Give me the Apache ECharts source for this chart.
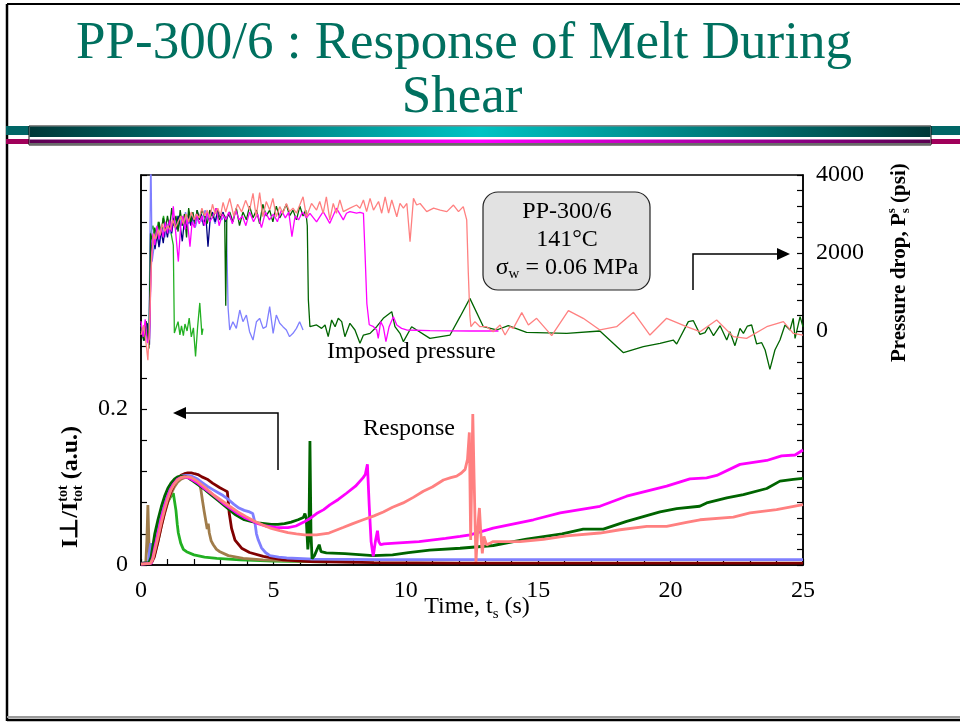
<!DOCTYPE html>
<html>
<head>
<meta charset="utf-8">
<script src="https://cdn.jsdelivr.net/npm/echarts/dist/echarts.min.js"></script>
<style>
  html, body { margin: 0; padding: 0; background: #fff; }
  #chart { width: 960px; height: 724px; }
</style>
</head>
<body>
<div id="chart"></div>
<script>
// ---------- axis ticks ----------
const timeTicks = [0, 5, 10, 15, 20, 25];
const intensityTicks = [0, 0.2];
const pressureTicks = [0, 2000, 4000];

// ---------- imposed pressure drop, psi  [time s, P] ----------
const pGreen = [[0,0],[0.1,-150],[0.2,200],[0.3,-300],[0.36,2500],[0.45,2700],[0.55,2350],[0.65,2800],[0.75,2500],[0.85,2950],[0.95,2600],[1.05,2750],[1.15,2450],[1.22,2200],[1.26,-50],[1.4,240],[1.47,-100],[1.53,130],[1.6,-120],[1.66,180],[1.74,0],[1.82,330],[1.9,-150],[1.98,80],[2.06,-650],[2.14,120],[2.22,720],[2.3,-100],[2.34,60]];

const pBlue = [[0,150],[0.1,-100],[0.2,250],[0.3,-150],[0.34,2500],[0.37,4700],[0.42,1780],[0.52,2290],[0.6,2500],[0.7,2200],[0.8,2650],[0.9,2400],[1.0,2750],[1.1,2500],[1.2,2850],[1.3,2650],[1.42,2950],[1.55,2700],[1.68,3050],[1.8,2750],[1.92,2950],[2.05,2650],[2.18,3000],[2.3,2800],[2.42,3100],[2.55,2850],[2.68,3000],[2.8,2750],[2.92,3050],[3.05,2850],[3.15,2950],[3.22,2890],[3.29,581],[3.35,26],[3.47,239],[3.6,68],[3.73,538],[3.85,239],[3.98,410],[4.1,-17],[4.23,-231],[4.36,239],[4.48,325],[4.61,68],[4.73,111],[4.86,624],[4.99,-60],[5.11,410],[5.24,197],[5.36,111],[5.49,26],[5.61,-145],[5.74,-60],[5.87,68],[5.99,239],[6.12,26]];

const pNavy = [[0,50],[0.12,-250],[0.24,200],[0.32,-350],[0.38,2000],[0.45,2450],[0.53,2100],[0.61,2500],[0.68,2150],[0.76,2600],[0.84,2250],[0.92,2700],[1.0,2400],[1.08,2800],[1.16,2500],[1.24,2900],[1.32,2600],[1.4,2950],[1.48,2700],[1.56,2300],[1.64,2850],[1.72,2650],[1.8,3000],[1.88,2700],[1.96,2950],[2.04,2750],[2.12,3100],[2.2,2850],[2.28,3000],[2.36,2700],[2.45,2950],[2.53,2160],[2.62,2950],[2.7,3050],[2.8,2800],[2.9,3100],[3.0,2900],[3.1,3050],[3.2,2800],[3.3,3000],[3.42,2850]];

const pDarkGreen = [[0,100],[0.1,-250],[0.2,250],[0.3,-450],[0.36,2500],[0.44,2300],[0.52,2650],[0.6,2400],[0.68,2800],[0.76,2500],[0.84,2900],[0.92,2600],[1.0,2950],[1.08,2650],[1.16,3150],[1.24,2700],[1.32,2950],[1.4,2550],[1.48,3100],[1.56,2700],[1.64,3000],[1.72,2400],[1.8,3150],[1.88,2800],[1.96,3050],[2.04,2750],[2.12,3100],[2.2,2850],[2.3,3100],[2.4,2950],[2.5,2750],[2.6,3100],[2.72,2900],[2.84,3150],[2.96,2850],[3.08,3000],[3.16,2950],[3.2,650],[3.24,2900],[3.35,3050],[3.47,2800],[3.6,3150],[3.72,2700],[3.85,3050],[3.98,2850],[4.1,3200],[4.23,2900],[4.36,3100],[4.48,2750],[4.6,3250],[4.73,2950],[4.86,3100],[4.98,2800],[5.11,3200],[5.24,2900],[5.36,3050],[5.49,3250],[5.61,2950],[5.74,3100],[5.87,2850],[6.0,3200],[6.12,2950],[6.22,3100],[6.28,2700],[6.32,800],[6.38,110],[6.63,154],[6.82,68],[6.95,154],[7.07,-145],[7.2,282],[7.33,110],[7.45,325],[7.58,240],[7.7,-145],[7.89,197],[8.08,26],[8.27,-316],[8.4,-103],[8.65,-60],[8.9,110],[9.15,325],[9.47,496],[9.59,110],[9.78,-60],[9.91,-274],[10.22,110],[10.91,-188],[11.67,-103],[12.05,367],[12.42,837],[12.93,110],[13.43,26],[13.87,137],[14.56,-34],[16.08,-60],[17.33,0],[18.22,-556],[18.97,-402],[19.6,-316],[20.1,-231],[20.23,-333],[20.67,240],[20.86,265],[21.11,-86],[21.3,-43],[21.43,110],[21.62,-120],[21.87,137],[22.12,-231],[22.24,-17],[22.43,-376],[22.62,68],[22.75,-60],[22.9,128],[23.06,154],[23.25,-333],[23.44,-299],[23.57,-487],[23.75,-983],[23.94,-487],[24.13,-231],[24.32,154],[24.51,26],[24.63,325],[24.7,-188],[24.89,367],[25,110]];

const pMagenta = [[0,250],[0.08,-150],[0.16,300],[0.24,-300],[0.32,-200],[0.38,1500],[0.45,2500],[0.52,2200],[0.6,2700],[0.68,2350],[0.76,2650],[0.84,2400],[0.92,2800],[1.0,2500],[1.08,2850],[1.15,2550],[1.22,3200],[1.3,2600],[1.41,1780],[1.5,2700],[1.58,2950],[1.66,2600],[1.74,2900],[1.85,2160],[1.93,2800],[2.02,2650],[2.1,3000],[2.2,2750],[2.3,2950],[2.4,2700],[2.5,3050],[2.6,2800],[2.72,2950],[2.84,3150],[2.95,2700],[3.08,3000],[3.2,2850],[3.32,3050],[3.45,2750],[3.58,3100],[3.7,2850],[3.83,2950],[3.96,2700],[4.1,3050],[4.25,2800],[4.4,3000],[4.55,2650],[4.7,3050],[4.85,2850],[5.0,3000],[5.15,2800],[5.3,3100],[5.45,2900],[5.58,3050],[5.7,2420],[5.82,2950],[5.95,2850],[6.1,3050],[6.25,2900],[6.38,3017],[6.63,2800],[6.88,3060],[7.13,2760],[7.38,3150],[7.64,2850],[7.76,3020],[7.89,3060],[8.14,3020],[8.27,3040],[8.4,3017],[8.46,2000],[8.53,700],[8.62,160],[8.78,110],[8.9,26],[8.96,-190],[9.05,240],[9.15,110],[9.25,-274],[9.37,110],[9.53,367],[9.66,154],[9.84,68],[10.03,26],[10.91,9],[12.42,0],[13.5,0]];

const pSalmon = [[0,-100],[0.1,150],[0.18,-250],[0.26,-750],[0.33,300],[0.4,1900],[0.48,2500],[0.56,2350],[0.64,2600],[0.72,2450],[0.8,2750],[0.9,2550],[1.0,2700],[1.1,2600],[1.2,2850],[1.3,2650],[1.4,2800],[1.5,2950],[1.6,2750],[1.7,3000],[1.8,2800],[1.9,3050],[2.0,2850],[2.1,3000],[2.2,2900],[2.3,3150],[2.4,2950],[2.5,3100],[2.6,2900],[2.7,3250],[2.8,3000],[2.9,3150],[3.0,2950],[3.1,3300],[3.2,3050],[3.35,3400],[3.5,2950],[3.65,3250],[3.8,3050],[3.95,3350],[4.1,3100],[4.23,3530],[4.35,2930],[4.48,3550],[4.6,2930],[4.73,3320],[4.86,3100],[4.98,3400],[5.11,2930],[5.24,3190],[5.36,3020],[5.49,3270],[5.61,3060],[5.74,3150],[5.87,3020],[6.12,3440],[6.25,2930],[6.44,3270],[6.63,3100],[6.75,3320],[6.88,3020],[7.0,3440],[7.13,2850],[7.26,3270],[7.38,3020],[7.51,3360],[7.64,3060],[7.89,3150],[8.14,3230],[8.27,3150],[8.4,3360],[8.52,3060],[8.65,3400],[8.78,3100],[8.97,3320],[9.09,3020],[9.22,3440],[9.35,3020],[9.47,3360],[9.66,2930],[9.78,3270],[9.91,3150],[10.04,3270],[10.16,2290],[10.29,3400],[10.41,3230],[10.54,3270],[10.79,3060],[11.05,3150],[11.3,3100],[11.55,3060],[11.8,3230],[11.99,3060],[12.17,3190],[12.3,2850],[12.36,1500],[12.42,400],[12.46,110],[12.61,240],[12.8,110],[13.05,110],[13.3,-17],[13.56,154],[13.75,-103],[13.93,110],[14.06,68],[14.38,470],[14.63,154],[14.94,325],[15.51,-120],[16.14,521],[16.7,325],[17.33,26],[17.96,110],[18.6,478],[19.22,-103],[19.85,325],[20.6,110],[21.11,-17],[21.74,282],[22.37,-145],[22.87,-188],[23.63,110],[24.26,240],[24.63,-60],[25,-103]];

// ---------- response I⊥/Itot (a.u.)  [time s, I] ----------
const rGreen = [[0,0.002],[0.2,0.002],[0.3,0.003],[0.39,0.01],[0.5,0.028],[0.64,0.047],[0.77,0.06],[0.89,0.072],[1.01,0.081],[1.13,0.088],[1.22,0.092],[1.27,0.091],[1.32,0.07],[1.37,0.052],[1.41,0.041],[1.5,0.028],[1.6,0.02],[1.72,0.017],[2.0,0.013],[2.4,0.01],[2.86,0.0086],[3.74,0.0065],[5,0.005],[7,0.004]];

const rBrown = [[0,0.002],[0.18,0.002],[0.22,0.03],[0.26,0.077],[0.29,0.04],[0.32,0.004],[0.4,0.006],[0.5,0.012],[0.64,0.03],[0.77,0.05],[0.89,0.066],[1.01,0.08],[1.13,0.091],[1.26,0.1],[1.38,0.106],[1.51,0.11],[1.64,0.112],[1.77,0.113],[1.9,0.113],[2.02,0.111],[2.12,0.108],[2.2,0.105],[2.26,0.097],[2.32,0.083],[2.38,0.07],[2.45,0.056],[2.5,0.046],[2.54,0.053],[2.58,0.041],[2.65,0.031],[2.73,0.026],[2.85,0.02],[2.98,0.017],[3.3,0.012],[3.86,0.0086],[4.6,0.0065],[6,0.005],[8,0.004]];

const rDarkRed = [[0,0.002],[0.4,0.003],[0.5,0.01],[0.64,0.03],[0.77,0.05],[0.89,0.067],[1.01,0.082],[1.13,0.094],[1.26,0.104],[1.38,0.111],[1.51,0.115],[1.64,0.117],[1.77,0.118],[1.9,0.118],[2.02,0.117],[2.15,0.116],[2.3,0.113],[2.5,0.11],[2.7,0.105],[2.98,0.099],[3.15,0.096],[3.26,0.094],[3.3,0.08],[3.33,0.067],[3.42,0.047],[3.55,0.032],[3.8,0.0215],[4.1,0.016],[4.62,0.011],[5.37,0.0065],[6.4,0.0045],[8.8,0.003],[12,0.0025],[25,0.0025]];

const rBlue = [[0,0.002],[0.28,0.003],[0.33,0.02],[0.37,0.028],[0.41,0.012],[0.46,0.01],[0.52,0.02],[0.64,0.042],[0.77,0.062],[0.89,0.078],[1.01,0.09],[1.13,0.099],[1.26,0.106],[1.38,0.111],[1.51,0.114],[1.64,0.115],[1.77,0.115],[1.9,0.114],[2.1,0.111],[2.3,0.106],[2.5,0.101],[2.7,0.097],[2.9,0.093],[3.1,0.089],[3.3,0.084],[3.5,0.078],[3.7,0.073],[3.9,0.07],[4.1,0.068],[4.22,0.066],[4.3,0.055],[4.36,0.04],[4.43,0.032],[4.55,0.022],[4.7,0.016],[4.87,0.012],[5.2,0.01],[5.5,0.009],[6.5,0.0075],[9,0.0068],[25,0.0068]];

const rDarkGreen = [[0,0.002],[0.3,0.003],[0.38,0.01],[0.45,0.025],[0.52,0.04],[0.64,0.058],[0.77,0.075],[0.89,0.088],[1.01,0.098],[1.13,0.105],[1.26,0.11],[1.38,0.113],[1.51,0.114],[1.64,0.114],[1.77,0.112],[1.9,0.109],[2.15,0.103],[2.4,0.097],[2.65,0.09],[2.9,0.083],[3.15,0.076],[3.3,0.072],[3.54,0.065],[3.75,0.061],[3.9,0.058],[4.15,0.056],[4.42,0.054],[4.67,0.053],[4.92,0.052],[5.17,0.052],[5.42,0.053],[5.67,0.055],[5.93,0.058],[6.13,0.061],[6.19,0.066],[6.24,0.06],[6.3,0.02],[6.34,0.035],[6.38,0.159],[6.42,0.04],[6.46,0.008],[6.55,0.012],[6.65,0.02],[6.73,0.026],[6.8,0.017],[7.0,0.0155],[7.7,0.0145],[8.77,0.012],[9.5,0.013],[10.1,0.016],[10.9,0.019],[12.05,0.0215],[13.3,0.025],[14.56,0.0331],[15.9,0.04],[16.7,0.046],[17.46,0.046],[18.34,0.0559],[19.1,0.0632],[19.6,0.068],[20.23,0.0723],[21.1,0.0753],[21.36,0.0796],[22.12,0.086],[22.75,0.0903],[23.63,0.0981],[24.13,0.1075],[24.63,0.1097],[25,0.111]];

const rMagenta = [[0,0.001],[0.38,0.002],[0.45,0.01],[0.52,0.022],[0.64,0.04],[0.77,0.06],[0.89,0.075],[1.01,0.088],[1.13,0.098],[1.26,0.105],[1.38,0.11],[1.51,0.112],[1.64,0.113],[1.77,0.112],[1.9,0.11],[2.15,0.105],[2.4,0.098],[2.65,0.092],[2.9,0.085],[3.15,0.078],[3.4,0.072],[3.66,0.066],[3.9,0.061],[4.17,0.057],[4.42,0.053],[4.7,0.05],[5.12,0.048],[5.55,0.048],[5.85,0.05],[6.15,0.055],[6.4,0.06],[6.63,0.066],[6.9,0.071],[7.13,0.077],[7.45,0.084],[7.76,0.092],[8.1,0.101],[8.39,0.112],[8.47,0.116],[8.55,0.129],[8.62,0.075],[8.69,0.03],[8.77,0.011],[8.85,0.03],[8.93,0.044],[8.98,0.03],[9.05,0.026],[9.18,0.027],[9.6,0.028],[10.5,0.03],[11.5,0.034],[12.05,0.0366],[12.43,0.0387],[13.3,0.0473],[14.82,0.058],[15.83,0.0667],[17.33,0.0753],[18.34,0.0882],[19.85,0.1011],[20.73,0.1105],[21.36,0.1118],[21.74,0.1148],[22.62,0.129],[23.63,0.134],[24.19,0.1398],[24.7,0.141],[25,0.1475]];

const rSalmon = [[0,0.001],[0.35,0.002],[0.45,0.008],[0.52,0.018],[0.64,0.035],[0.77,0.055],[0.89,0.071],[1.01,0.085],[1.13,0.096],[1.26,0.104],[1.38,0.109],[1.51,0.112],[1.64,0.113],[1.77,0.113],[1.9,0.112],[2.1,0.108],[2.4,0.1],[2.7,0.091],[3.03,0.083],[3.36,0.075],[3.66,0.068],[3.97,0.062],[4.29,0.056],[4.62,0.051],[4.92,0.047],[5.24,0.044],[5.55,0.0415],[5.87,0.04],[6.18,0.0387],[6.63,0.0385],[7.1,0.041],[7.63,0.048],[8.0,0.053],[8.39,0.058],[8.8,0.063],[9.15,0.068],[9.5,0.074],[9.9,0.0796],[10.3,0.087],[10.66,0.0946],[11.0,0.1],[11.42,0.109],[11.7,0.112],[11.92,0.114],[12.1,0.118],[12.24,0.1226],[12.33,0.1355],[12.4,0.17],[12.45,0.032],[12.53,0.1935],[12.58,0.11],[12.65,0.004],[12.74,0.058],[12.78,0.0731],[12.84,0.0366],[12.89,0.015],[12.95,0.0366],[13.05,0.0258],[13.18,0.028],[13.3,0.03],[14.31,0.03],[15.2,0.033],[16.07,0.0374],[17.33,0.041],[18.09,0.0452],[19.1,0.0495],[19.85,0.0495],[20.6,0.0546],[21.11,0.058],[22.37,0.0615],[23.0,0.0667],[24.0,0.071],[25,0.0774]];

// ---------- text ----------
const titleLines = ['PP-300/6 : Response of Melt During', 'Shear'];
const boxLines = ['PP-300/6', '141°C'];
const FAM = "'Liberation Serif','Times New Roman',serif";

// ---------- series styling ----------
const C = {
  green: '#22b022', blue: '#7f7fff', navy: '#000080', dkgreen: '#006400',
  magenta: '#ff00ff', salmon: '#ff8080', brown: '#a07c4a', darkred: '#800000'
};

function line(name, data, color, axis, width) {
  return {
    name, type: 'line', data, yAxisIndex: axis, symbol: 'none', showSymbol: false,
    clip: true, animation: false, silent: true,
    lineStyle: { color, width }, itemStyle: { color }
  };
}

const series = [
  line('P green', pGreen, C.green, 1, 1.3),
  line('P blue', pBlue, C.blue, 1, 1.3),
  line('P navy', pNavy, C.navy, 1, 1.3),
  line('P dark green', pDarkGreen, C.dkgreen, 1, 1.3),
  line('P magenta', pMagenta, C.magenta, 1, 1.3),
  line('P salmon', pSalmon, C.salmon, 1, 1.3),
  line('I green', rGreen, C.green, 0, 2.8),
  line('I brown', rBrown, C.brown, 0, 2.8),
  line('I dark red', rDarkRed, C.darkred, 0, 2.8),
  line('I blue', rBlue, C.blue, 0, 2.8),
  line('I dark green', rDarkGreen, C.dkgreen, 0, 2.8),
  line('I magenta', rMagenta, C.magenta, 0, 2.8),
  line('I salmon', rSalmon, C.salmon, 0, 2.8)
];

// ---------- helpers for mixed-size text runs ----------
const mctx = document.createElement('canvas').getContext('2d');
function fontOf(p) { return (p.bold ? 'bold ' : '') + p.size + 'px ' + FAM; }
function textWidth(p) { mctx.font = fontOf(p); return mctx.measureText(p.text).width; }
function textEl(text, x, y, font, fill, align) {
  return {
    type: 'text', x, y, silent: true, z: 20,
    style: { text, font, fill, textAlign: align || 'left', align: align || 'left',
             textVerticalAlign: 'middle', verticalAlign: 'middle' }
  };
}
// parts: {text,size,bold,dy,stack}; stack=true shares the slot of the previous part
function layoutRun(parts, x0, y0, anchor, color) {
  const placed = [];
  let x = 0, slotX = 0, slotW = 0;
  parts.forEach(p => {
    const w = textWidth(p);
    if (p.stack) {
      placed.push({ p, x: slotX });
      slotW = Math.max(slotW, w);
      x = slotX + slotW;
    } else {
      placed.push({ p, x });
      slotX = x; slotW = w; x += w;
    }
  });
  const off = anchor === 'center' ? -x / 2 : 0;
  return placed.map(({ p, x: px }) => textEl(p.text, x0 + px + off, y0 + (p.dy || 0), fontOf(p), color));
}

// ---------- slide decoration ----------
const grad = (a, b) => new echarts.graphic.LinearGradient(0, 0, 1, 0, [
  { offset: 0, color: a }, { offset: 0.5, color: b }, { offset: 1, color: a }
]);
const deco = [
  // slide frame
  { type: 'line', shape: { x1: 7, y1: 4, x2: 960, y2: 4 }, style: { stroke: '#000', lineWidth: 2 } },
  { type: 'line', shape: { x1: 7, y1: 4, x2: 7, y2: 721 }, style: { stroke: '#000', lineWidth: 2.5 } },
  { type: 'rect', shape: { x: 7, y: 716, width: 953, height: 2 }, style: { fill: '#9a9a9a' } },
  { type: 'line', shape: { x1: 7, y1: 720, x2: 960, y2: 720 }, style: { stroke: '#000', lineWidth: 2.5 } },
  // divider band under the title
  { type: 'rect', shape: { x: 6, y: 126, width: 954, height: 9 }, style: { fill: '#006666' } },
  { type: 'rect', shape: { x: 6, y: 139, width: 954, height: 5 }, style: { fill: '#a0005a' } },
  { type: 'rect', shape: { x: 29, y: 126, width: 902, height: 19 }, style: { fill: '#fff', stroke: '#111', lineWidth: 1 } },
  { type: 'rect', shape: { x: 29.5, y: 126.5, width: 901, height: 10.5 }, style: { fill: grad('#003838', '#00c4c4') } },
  { type: 'rect', shape: { x: 29.5, y: 139.5, width: 901, height: 3.5 }, style: { fill: grad('#5a0050', '#ff00ff') } },
  { type: 'rect', shape: { x: 29.5, y: 143, width: 901, height: 2 }, style: { fill: '#6a6a6a' } }
];

// ---------- titles and annotations ----------
const texts = [
  textEl(titleLines[0], 464, 44, '53px ' + FAM, '#00705f', 'center'),
  textEl(titleLines[1], 462, 98, '53px ' + FAM, '#00705f', 'center'),
  // condition box
  { type: 'rect', z: 15, shape: { x: 483, y: 192, width: 167, height: 98, r: 15 },
    style: { fill: '#e2e2e2', stroke: '#222', lineWidth: 1.2 } },
  textEl(boxLines[0], 567, 212, '24px ' + FAM, '#000', 'center'),
  textEl(boxLines[1], 567, 240, '24px ' + FAM, '#000', 'center'),
  ...layoutRun([
    { text: 'σ', size: 24 }, { text: 'w', size: 15, dy: 6 }, { text: ' = 0.06 MPa', size: 24 }
  ], 567, 268, 'center', '#000'),
  // series annotations
  textEl('Imposed pressure', 327, 352, '24px ' + FAM, '#000', 'left'),
  textEl('Response', 363, 429, '24px ' + FAM, '#000', 'left'),
  // x-axis title
  ...layoutRun([
    { text: 'Time, t', size: 24 }, { text: 's', size: 15, dy: 7 }, { text: ' (s)', size: 24 }
  ], 477, 607, 'center', '#000'),
  // left axis title (reads bottom to top)
  { type: 'group', x: 71, y: 548, rotation: Math.PI / 2, z: 20,
    children: layoutRun([
      { text: 'I⊥/I', size: 24, bold: true },
      { text: 'tot', size: 14, bold: true, dy: -8 },
      { text: 'tot', size: 14, bold: true, dy: 7, stack: true },
      { text: ' (a.u.)', size: 24, bold: true }
    ], 0, 0, 'left', '#000') },
  // right axis title (reads bottom to top)
  { type: 'group', x: 900, y: 362, rotation: Math.PI / 2, z: 20,
    children: layoutRun([
      { text: 'Pressure drop, P', size: 21, bold: true },
      { text: 's', size: 13, bold: true, dy: -8 },
      { text: 's', size: 13, bold: true, dy: 6, stack: true },
      { text: ' (psi)', size: 21, bold: true }
    ], 0, 0, 'left', '#000') },
  // arrows pointing to the axis each group belongs to
  { type: 'polyline', z: 20, shape: { points: [[693, 290], [693, 254], [778, 254]] },
    style: { stroke: '#000', lineWidth: 1.5, fill: null } },
  { type: 'polygon', z: 20, shape: { points: [[777, 248], [790, 254], [777, 260]] }, style: { fill: '#000' } },
  { type: 'polyline', z: 20, shape: { points: [[278, 470], [278, 413], [185, 413]] },
    style: { stroke: '#000', lineWidth: 1.5, fill: null } },
  { type: 'polygon', z: 20, shape: { points: [[186, 407], [173, 413], [186, 419]] }, style: { fill: '#000' } }
];

const near = (v, list) => list.find(t => Math.abs(v - t) < 1e-6);

const chart = echarts.init(document.getElementById('chart'), null, { renderer: 'canvas' });
chart.setOption({
  backgroundColor: '#fff',
  animation: false,
  grid: { left: 141, right: 157, top: 175, bottom: 159, show: true,
          borderColor: '#000', borderWidth: 1.5, backgroundColor: 'transparent' },
  xAxis: {
    type: 'value', min: 0, max: 25, interval: 1,
    axisLine: { show: true, lineStyle: { color: '#000', width: 1.5 } },
    axisTick: { show: true, inside: true, length: 6, lineStyle: { color: '#000', width: 1.2 } },
    splitLine: { show: false },
    axisLabel: {
      margin: 14, color: '#000', fontSize: 24, fontFamily: FAM,
      formatter: v => { const t = near(v, timeTicks); return t === undefined ? '' : String(t); }
    }
  },
  yAxis: [
    {
      type: 'value', position: 'left', min: 0, max: 0.5, interval: 0.04,
      axisLine: { show: true, lineStyle: { color: '#000', width: 1.5 } },
      axisTick: { show: true, inside: true, length: 6, lineStyle: { color: '#000', width: 1.2 } },
      splitLine: { show: false },
      axisLabel: {
        margin: 13, color: '#000', fontSize: 24, fontFamily: FAM,
        formatter: v => { const t = near(v, intensityTicks); return t === undefined ? '' : String(t); }
      }
    },
    {
      type: 'value', position: 'right', min: -6000, max: 4000, interval: 400,
      axisLine: { show: true, lineStyle: { color: '#000', width: 1.5 } },
      axisTick: { show: true, inside: true, length: 6, lineStyle: { color: '#000', width: 1.2 } },
      splitLine: { show: false },
      axisLabel: {
        margin: 13, color: '#000', fontSize: 24, fontFamily: FAM,
        formatter: v => { const t = near(v, pressureTicks); return t === undefined ? '' : String(t); }
      }
    }
  ],
  series,
  graphic: { elements: [...deco, ...texts] }
});
</script>
</body>
</html>
